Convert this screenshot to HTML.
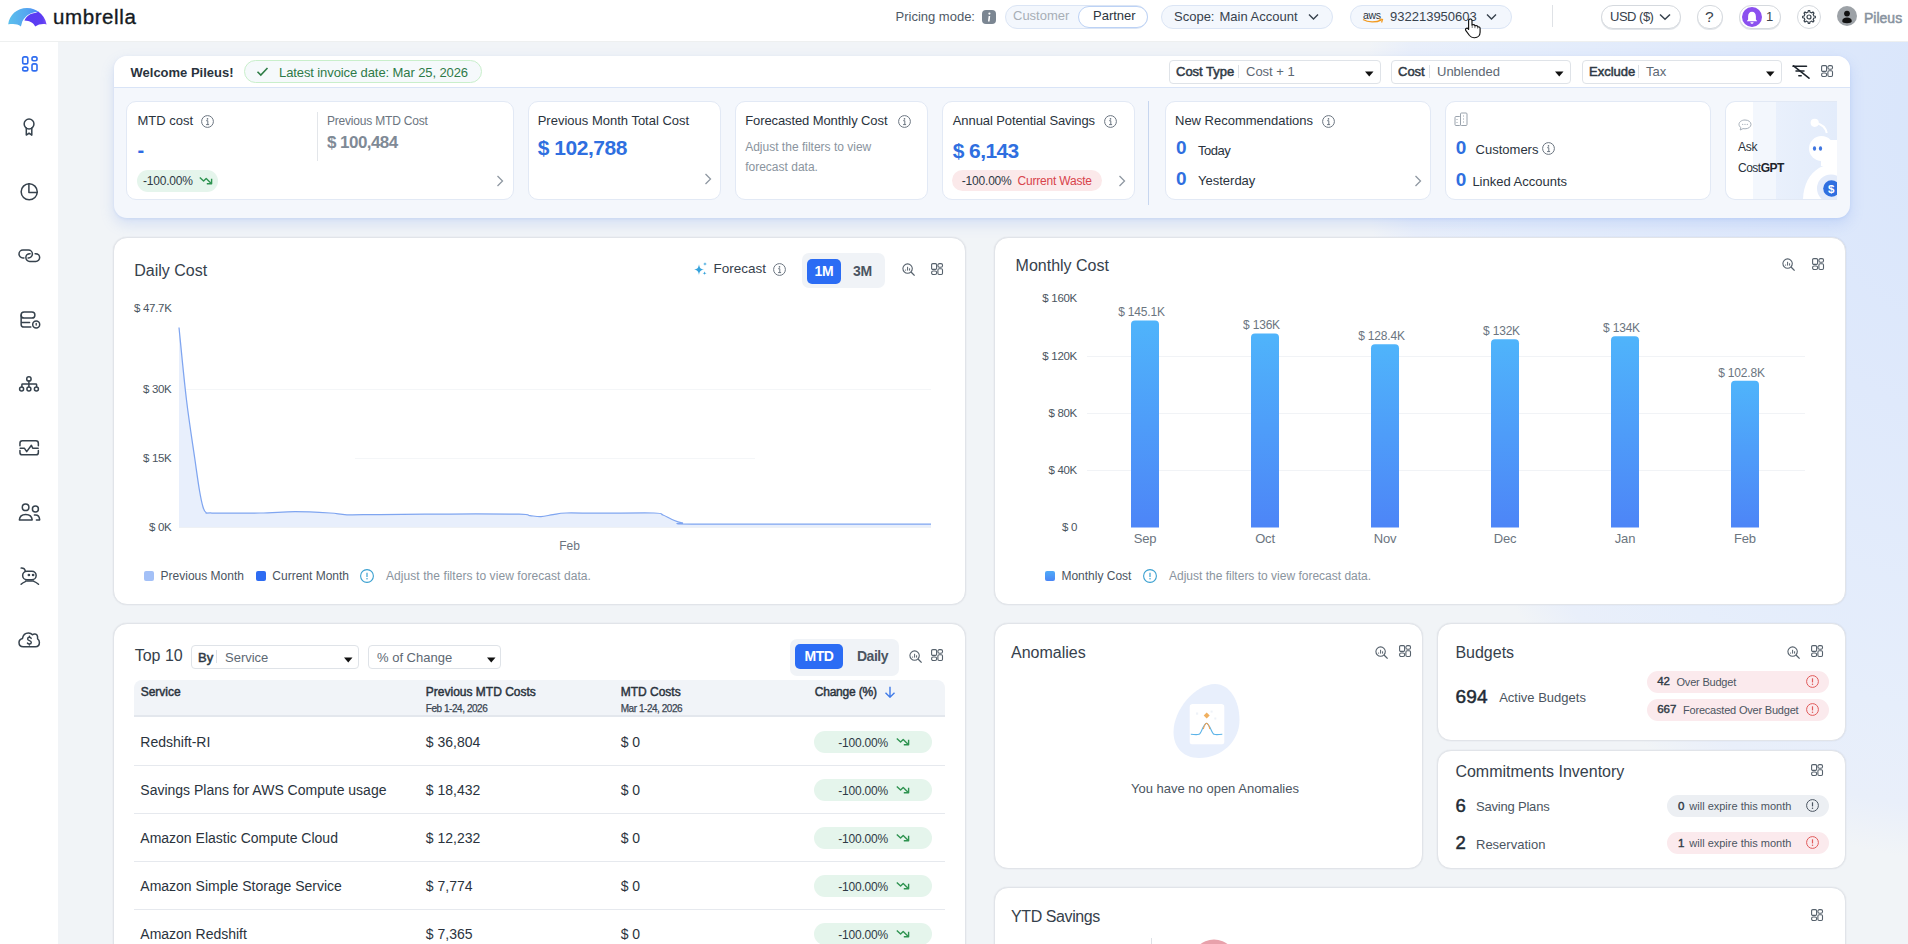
<!DOCTYPE html><html><head><meta charset="utf-8"><title>Umbrella</title><style>
*{box-sizing:border-box;margin:0;padding:0}
html,body{width:1908px;height:944px;overflow:hidden}
body{position:relative;font-family:"Liberation Sans",sans-serif;background:#f1f4f7;color:#2b3440;-webkit-font-smoothing:antialiased}
.t{position:absolute;white-space:nowrap;line-height:1}
.b{position:absolute;display:block}
.card{position:absolute;background:#fff;border:1px solid #e1e4e9;border-radius:14px;box-shadow:0 0 1.5px rgba(30,40,60,.10)}
.kpi{position:absolute;background:#fff;border:1px solid #e2e9f5;border-radius:10px}
.pill{position:absolute;border-radius:12px}
.sel{position:absolute;background:#fff;border:1px solid #dfe3e8;border-radius:4px}
</style></head><body>
<div class="b" style="left:0;top:0;width:1908px;height:944px;background:radial-gradient(ellipse 600px 740px at 1965px 120px, #d8e5fb 0%, #dfe9fb 40%, #e6eefb 80%, #e9effa 93%, rgba(241,244,247,0) 100%)"></div>
<div class="b" style="left:0px;top:0px;width:1908px;height:42px;background:#fff;border-bottom:1px solid #eef0f0"></div>
<svg class="b" style="left:0px;top:0px;" width="50" height="30" viewBox="0 0 50 30"><defs><linearGradient id="lg1" x1="0" x2="1" y1="0" y2="0"><stop offset="0" stop-color="#5cc0ec"/><stop offset="0.6" stop-color="#55a6f0"/><stop offset="1" stop-color="#4a86f6"/></linearGradient><linearGradient id="lg2" x1="0" x2="1"><stop offset="0" stop-color="#5a3cf3"/><stop offset="0.8" stop-color="#5c3df2"/><stop offset="1" stop-color="#7d4ff6"/></linearGradient></defs><path d="M8.2 24.2 C9.5 14.5 17 8 27 7.9 C32 7.9 36 9.5 39 12.2 C32 11.5 26 15 22.3 21.5 L20.9 26.4 C18.5 24.6 15.5 23.9 12.5 24 C10.8 24 9.3 24.3 8.2 24.2 Z" fill="url(#lg1)"/><path d="M24.4 20.6 C26.5 16 30.5 13.2 35 12.9 C36.5 12.8 37.5 12.3 38.2 11.6 C42.5 14.5 45.6 19 46.6 24.4 C43 23.6 38.5 24 35.2 26.6 C33.5 23.1 29.8 20.8 24.4 20.6 Z" fill="url(#lg2)"/></svg>
<div class="t " style="left:53.0px;top:6.65px;font-size:20.5px;color:#151a22;letter-spacing:0.6px;-webkit-text-stroke:0.35px #151a22;">umbrella</div>
<div class="t " style="left:895.5px;top:9.80px;font-size:13px;color:#4f5a66;">Pricing mode:</div>
<svg class="b" style="left:982px;top:10px;" width="14" height="14" viewBox="0 0 14 14"><rect x="0" y="0" width="14" height="14" rx="4" fill="#7b8692"/><circle cx="7.4" cy="3.6" r="1.1" fill="#fff"/><path d="M6.6 6 L8.2 6 L7.6 11.5 L6 11.5 Z" fill="#fff"/></svg>
<div class="b" style="left:1005px;top:5px;width:143px;height:24px;background:#f3f7fd;border:1px solid #dbe5f5;border-radius:12px"></div>
<div class="b" style="left:1078px;top:6px;width:70px;height:22px;background:#fff;border:1px solid #bcd2f5;border-radius:11px"></div>
<div class="t " style="left:1013.0px;top:9.00px;font-size:13px;color:#a7aeb6;">Customer</div>
<div class="t " style="left:1093.0px;top:9.00px;font-size:13px;color:#2d3640;">Partner</div>
<div class="b" style="left:1161px;top:5px;width:172px;height:24px;background:#f3f7fd;border:1px solid #dbe5f5;border-radius:12px"></div>
<div class="t " style="left:1174.0px;top:9.50px;font-size:13px;color:#37424d;">Scope:</div>
<div class="t " style="left:1219.5px;top:9.50px;font-size:13px;color:#37424d;">Main Account</div>
<svg class="b" style="left:1308px;top:13px;" width="11" height="8" viewBox="0 0 11 8"><path d="M1 1.5 L5.5 6 L10 1.5" fill="none" stroke="#37424d" stroke-width="1.4"/></svg>
<div class="b" style="left:1350px;top:5px;width:162px;height:24px;background:#f3f7fd;border:1px solid #dbe5f5;border-radius:12px"></div>
<div class="t" style="left:1363px;top:9.5px;font-size:10.5px;color:#2b3440;letter-spacing:-0.3px;">aws</div>
<svg class="b" style="left:1362px;top:18px;" width="22" height="6" viewBox="0 0 22 6"><path d="M1 1.5 C6 4.5 14 4.8 19.5 1.8" fill="none" stroke="#f29a1f" stroke-width="1.4"/><path d="M17 0.8 L20.5 1.5 L19.6 4.5" fill="none" stroke="#f29a1f" stroke-width="1.2"/></svg>
<div class="t " style="left:1390.0px;top:9.60px;font-size:13px;color:#37424d;">932213950603</div>
<svg class="b" style="left:1486px;top:13px;" width="11" height="8" viewBox="0 0 11 8"><path d="M1 1.5 L5.5 6 L10 1.5" fill="none" stroke="#37424d" stroke-width="1.4"/></svg>
<div class="b" style="left:1552px;top:5px;width:1px;height:22px;background:#dfe2e6"></div>
<div class="b" style="left:1601px;top:5px;width:80px;height:24px;background:#fff;border:1px solid #d5d9de;border-radius:12px;box-shadow:0 1px 0 #e2e5e9"></div>
<div class="t " style="left:1610.0px;top:9.60px;font-size:13px;color:#37424d;letter-spacing:-0.5px;">USD ($)</div>
<svg class="b" style="left:1659px;top:13px;" width="12" height="8" viewBox="0 0 12 8"><path d="M1 1.5 L6 6.3 L11 1.5" fill="none" stroke="#37424d" stroke-width="1.5"/></svg>
<div class="b" style="left:1697px;top:5px;width:26px;height:24px;background:#fff;border:1px solid #d5d9de;border-radius:12px;box-shadow:0 1px 0 #e2e5e9"></div>
<div class="t " style="left:1705.0px;top:8.88px;font-size:15.5px;color:#37424d;">?</div>
<div class="b" style="left:1739px;top:5px;width:42px;height:24px;background:#fff;border:1px solid #d5d9de;border-radius:12px;box-shadow:0 1px 0 #e2e5e9"></div>
<svg class="b" style="left:1742px;top:7px;" width="20" height="20" viewBox="0 0 20 20"><circle cx="10" cy="10" r="10" fill="#8b50ef"/><path d="M4.8 14.2 H15.2 L13.9 12.4 V9.4 C13.9 6.6 12.3 4.8 10 4.8 C7.7 4.8 6.1 6.6 6.1 9.4 V12.4 Z" fill="#fff"/><path d="M8.4 15.2 H11.6 C11.4 16.2 10.8 16.7 10 16.7 C9.2 16.7 8.6 16.2 8.4 15.2 Z" fill="#fff"/></svg>
<div class="t " style="left:1766.0px;top:10.00px;font-size:13px;color:#3a434d;">1</div>
<div class="b" style="left:1797px;top:5px;width:24px;height:24px;background:#fff;border:1px solid #d5d9de;border-radius:12px"></div>
<svg class="b" style="left:1802px;top:10px;" width="14" height="14" viewBox="0 0 14 14"><path d="M11.53 5.12 L11.80 6.01 L13.36 6.25 L13.36 7.75 L11.80 7.99 L11.53 8.88 L11.10 9.69 L12.03 10.96 L10.96 12.03 L9.69 11.10 L8.88 11.53 L7.99 11.80 L7.75 13.36 L6.25 13.36 L6.01 11.80 L5.12 11.53 L4.31 11.10 L3.04 12.03 L1.97 10.96 L2.90 9.69 L2.47 8.88 L2.20 7.99 L0.64 7.75 L0.64 6.25 L2.20 6.01 L2.47 5.12 L2.90 4.31 L1.97 3.04 L3.04 1.97 L4.31 2.90 L5.12 2.47 L6.01 2.20 L6.25 0.64 L7.75 0.64 L7.99 2.20 L8.88 2.47 L9.69 2.90 L10.96 1.97 L12.03 3.04 L11.10 4.31 Z" fill="none" stroke="#37424d" stroke-width="1.15" stroke-linejoin="round"/><circle cx="7" cy="7" r="2" fill="none" stroke="#37424d" stroke-width="1.2"/></svg>
<svg class="b" style="left:1837px;top:6px;" width="20" height="20" viewBox="0 0 20 20"><circle cx="10" cy="10" r="10" fill="#9da2a7"/><circle cx="10" cy="7.6" r="2.9" fill="#111"/><path d="M5.2 15.2 C5.2 12.8 7.2 11.6 10 11.6 C12.8 11.6 14.8 12.8 14.8 15.2 C14.8 16.4 12.8 17.2 10 17.2 C7.2 17.2 5.2 16.4 5.2 15.2 Z" fill="#111"/></svg>
<div class="t " style="left:1864.0px;top:10.95px;font-size:14px;color:#8893a0;-webkit-text-stroke:0.5px #8893a0;">Pileus</div>
<div class="b" style="left:0px;top:42px;width:58px;height:902px;background:#fff"></div>
<svg class="b" style="left:0;top:0" width="58" height="660" viewBox="0 0 58 660"><g fill="none" stroke="#36424d" stroke-width="1.5" stroke-linecap="round" stroke-linejoin="round"><g stroke="#2f6df0" stroke-width="1.6"><rect x="22.7" y="56.9" width="5.1" height="7" rx="1.7"/><rect x="32" y="56.9" width="5" height="3.9" rx="1.7"/><rect x="22.7" y="67.1" width="5.1" height="3.8" rx="1.7"/><rect x="32" y="63.9" width="5" height="7" rx="1.7"/></g><circle cx="29.05" cy="124" r="4.9"/><path d="M26.3 128 V135.1 L29.05 133.2 L31.8 135.1 V128"/><circle cx="29.2" cy="191.8" r="8.05"/><path d="M28.9 183.8 V192.4 H37.2"/><path d="M23.9 258 H22.95 A3.95 3.95 0 0 1 22.95 250.1 H28.45 A3.95 3.95 0 0 1 28.45 258 H28.1"/><path d="M30.1 253.75 H29.7 A3.85 3.85 0 0 0 29.7 261.45 H35.8 A3.85 3.85 0 0 0 35.8 253.75 H35.1"/><rect x="21.15" y="311.95" width="13.7" height="6.1" rx="2.9"/><path d="M21.15 315 V324.5 C21.15 326.3 22.2 327.1 24 327.1 H30.8 M21.3 322.6 H29.6"/><circle cx="36.2" cy="324.4" r="3.5"/><path d="M36.2 323.4 V325" stroke-width="1.3"/><circle cx="28.9" cy="378.9" r="2.2"/><path d="M28.9 381.1 V386.7 M21.9 386.8 V384.6 C21.9 384.1 22.2 383.9 22.7 383.9 H35.8 C36.3 383.9 36.6 384.1 36.6 384.6 V386.8"/><circle cx="21.6" cy="388.9" r="2"/><circle cx="28.9" cy="388.9" r="2"/><circle cx="36.4" cy="388.9" r="2"/><path d="M19.95 445.8 V443.3 C19.95 441.9 20.9 440.75 22.4 440.75 H35.9 C37.4 440.75 38.35 441.9 38.35 443.3 V445.8"/><path d="M19.95 450.6 V452.4 C19.95 453.9 20.9 454.85 22.4 454.85 H35.9 C37.4 454.85 38.35 453.9 38.35 452.4 V450.6"/><path d="M20.2 448.3 H24.5 L26.7 451.6 L31.4 445.3 L32.7 448.3 H38.2"/><circle cx="25.6" cy="507.3" r="3.3"/><circle cx="35.4" cy="508.9" r="3"/><path d="M19.4 519.9 C19.6 516.5 21.7 514.5 25.7 514.5 C29.7 514.5 31.9 516.5 32.2 519.9 Z"/><path d="M34.4 515.1 H35.6 C37.7 515.1 39.4 516.6 39.7 519.9 H36.4"/><rect x="22.65" y="571.25" width="13.5" height="8.5" rx="4.25"/><path d="M21.2 568.1 C23.2 568 24.8 569 25.3 570.9"/><path d="M25.6 580.9 H33.6 M25.4 581.6 C23.6 582.2 22.2 583.2 21.1 584.3 M33.8 581.4 C35.6 582 37 583 38.5 584.3"/><circle cx="28.9" cy="575" r="0.6" fill="#36424d"/><circle cx="33.1" cy="575" r="0.6" fill="#36424d"/><path d="M23.3 646.8 C20.6 646.8 19 644.9 19 642.6 C19 640.4 20.6 638.8 22.5 638.4 C23 635 25.5 632.9 28.5 632.9 C30.3 632.9 31.6 633.7 32.5 634.8 C33.2 634.2 34.2 633.9 35 634 C36.8 634.2 37.8 636 37.6 638.8 C39 639.5 39.4 641 39.4 642.6 C39.4 645 37.8 646.8 35.4 646.8 Z"/><path d="M31.2 638.4 C30.8 637.7 30.1 637.3 29.4 637.3 C28.3 637.3 27.6 638 27.6 638.9 C27.6 641 31.3 640.3 31.3 642.5 C31.3 643.4 30.5 644 29.4 644 C28.6 644 27.8 643.6 27.4 643 M29.4 636.2 V637.3 M29.4 644 V645.1" stroke-width="1.4"/></g></svg>
<div class="b" style="left:114px;top:56px;width:1736px;height:162px;border-radius:13px;background:#f4f7fc;box-shadow:0 6px 14px rgba(110,150,235,0.22), 0 1px 3px rgba(110,150,235,0.15);overflow:hidden"><div style="position:absolute;left:0;top:0;width:1736px;height:32px;background:#fff;border-bottom:1px solid #d9e4f7"></div></div>
<div class="t " style="left:130.5px;top:65.70px;font-size:13px;color:#2a333d;font-weight:700;letter-spacing:0px;">Welcome Pileus!</div>
<div class="b" style="left:244px;top:60px;width:238px;height:23px;background:#f5f9fb;border:1px solid #c9efcb;border-radius:12px"></div>
<svg class="b" style="left:256px;top:66px;" width="13" height="11" viewBox="0 0 13 11"><path d="M1.5 5.8 L4.8 9 L11.5 2" fill="none" stroke="#2e7d46" stroke-width="1.6"/></svg>
<div class="t " style="left:279.0px;top:65.50px;font-size:13px;color:#2e7a48;letter-spacing:-0.1px;">Latest invoice date: Mar 25, 2026</div>
<div class="b" style="left:1169px;top:60px;width:212px;height:24px;background:#fff;border:1px solid #dfe3e8;border-radius:4px"></div>
<div class="t " style="left:1176.0px;top:64.80px;font-size:13px;color:#2f3a45;-webkit-text-stroke:0.5px #2f3a45;">Cost Type</div>
<div class="b" style="left:1238px;top:65px;width:1px;height:13px;background:#dde1e6"></div>
<div class="t " style="left:1246.0px;top:64.80px;font-size:13px;color:#5d6873;">Cost + 1</div>
<svg class="b" style="left:1365px;top:70.5px;" width="9" height="6" viewBox="0 0 9 6"><path d="M0 0.5 H8.5 L4.25 5.5 Z" fill="#111"/></svg>
<div class="b" style="left:1391px;top:60px;width:180px;height:24px;background:#fff;border:1px solid #dfe3e8;border-radius:4px"></div>
<div class="t " style="left:1398.0px;top:64.80px;font-size:13px;color:#2f3a45;-webkit-text-stroke:0.5px #2f3a45;">Cost</div>
<div class="b" style="left:1429px;top:65px;width:1px;height:13px;background:#dde1e6"></div>
<div class="t " style="left:1437.0px;top:64.80px;font-size:13px;color:#5d6873;">Unblended</div>
<svg class="b" style="left:1555px;top:70.5px;" width="9" height="6" viewBox="0 0 9 6"><path d="M0 0.5 H8.5 L4.25 5.5 Z" fill="#111"/></svg>
<div class="b" style="left:1582px;top:60px;width:200px;height:24px;background:#fff;border:1px solid #dfe3e8;border-radius:4px"></div>
<div class="t " style="left:1589.0px;top:64.80px;font-size:13px;color:#2f3a45;-webkit-text-stroke:0.5px #2f3a45;">Exclude</div>
<div class="b" style="left:1638px;top:65px;width:1px;height:13px;background:#dde1e6"></div>
<div class="t " style="left:1646.0px;top:64.80px;font-size:13px;color:#5d6873;">Tax</div>
<svg class="b" style="left:1766px;top:70.5px;" width="9" height="6" viewBox="0 0 9 6"><path d="M0 0.5 H8.5 L4.25 5.5 Z" fill="#111"/></svg>
<svg class="b" style="left:1792px;top:65px;" width="19" height="14" viewBox="0 0 19 14"><g fill="none" stroke="#1d242c" stroke-width="1.5" stroke-linecap="round"><path d="M1 1.3 H14.5"/><path d="M4 6 H12"/><path d="M6.8 10.8 H9.2"/><path d="M1.5 0.8 L17 13.2"/></g></svg>
<svg class="b" style="left:1821.2px;top:65.4px;" width="13" height="13" viewBox="0 0 13 13"><g fill="none" stroke="#56616c" stroke-width="1.1"><rect x="0.6" y="0.6" width="5" height="5.8" rx="1.2"/><rect x="6.9" y="0.6" width="4.6" height="3.6" rx="1.5"/><rect x="0.6" y="8" width="5" height="3.5" rx="1.5"/><rect x="6.9" y="5.8" width="4.6" height="5.7" rx="1.2"/></g></svg>
<div class="kpi" style="left:126px;top:101px;width:388px;height:99px"></div>
<div class="kpi" style="left:528px;top:101px;width:193px;height:99px"></div>
<div class="kpi" style="left:735px;top:101px;width:193px;height:99px"></div>
<div class="kpi" style="left:942px;top:101px;width:193px;height:99px"></div>
<div class="b" style="left:1148px;top:101px;width:1px;height:104px;background:#c7d6ef"></div>
<div class="kpi" style="left:1165px;top:101px;width:266px;height:99px"></div>
<div class="kpi" style="left:1445px;top:101px;width:266px;height:99px"></div>
<div class="b" style="left:1725px;top:101px;width:112px;height:99px;border-radius:10px 0 0 10px;overflow:hidden;border:1px solid #e2e9f5;border-right:none;background:linear-gradient(90deg,#fff 0,#fff 27px,#f3f7fd 27px,#f3f7fd 50px,#e9f0fc 50px,#e6eefb 75px,#e3ecfb 100%)"><svg style="position:absolute;left:0;top:0" width="112" height="99" viewBox="0 0 112 99"><path d="M77 99 C77 84 83 72 93 66 C97 63.5 103 62.5 112 62.5 V99 Z" fill="#fff"/><circle cx="95.5" cy="46.5" r="12.5" fill="#fff"/><rect x="95" y="38" width="17" height="26" fill="#fff"/><path d="M90 21 C95 22 99.5 25 100.8 31" fill="none" stroke="#fff" stroke-width="2"/><circle cx="88.7" cy="20.8" r="4.1" fill="#fff"/><ellipse cx="88.5" cy="46.5" rx="1.6" ry="2.3" fill="#3f76e0"/><ellipse cx="94.5" cy="46.5" rx="1.6" ry="2.3" fill="#3f76e0"/><circle cx="105" cy="86.5" r="14" fill="#e3ebfa"/><circle cx="105.5" cy="86.5" r="8.3" fill="#2f6fe0"/><text x="102" y="91" font-family="Liberation Sans" font-weight="700" font-size="11.5" fill="#fff">$</text></svg></div>
<div class="t " style="left:137.5px;top:114.00px;font-size:13px;color:#2a333d;">MTD cost</div>
<svg class="b" style="left:201px;top:115px;" width="13" height="13" viewBox="0 0 13 13"><circle cx="6.5" cy="6.5" r="5.9" fill="none" stroke="#6b7580" stroke-width="1"/><circle cx="6.5" cy="3.9" r="0.8" fill="#6b7580"/><path d="M5.2 5.7 H6.8 V9.5 M5.1 9.6 H8.1" stroke="#6b7580" stroke-width="1" fill="none"/></svg>
<div class="t " style="left:137.5px;top:140.07px;font-size:20px;color:#2d6be4;font-weight:700;">-</div>
<div class="b" style="left:137px;top:170px;width:81px;height:22px;background:#e5f5ec;border-radius:11px"></div>
<div class="t " style="left:143.0px;top:174.54px;font-size:12px;color:#2f3a45;letter-spacing:-0.2px;">-100.00%</div>
<svg class="b" style="left:199px;top:176px;" width="14" height="9" viewBox="0 0 14 9"><path d="M0.8 1.5 L4.6 5 L7.2 2.6 L12 7.2 M12.6 2.8 V7.8 H7.8" fill="none" stroke="#2e9350" stroke-width="1.4" stroke-linejoin="round"/></svg>
<div class="b" style="left:317px;top:112px;width:1px;height:49px;background:#e3e6ea"></div>
<div class="t " style="left:327.0px;top:114.84px;font-size:12px;color:#6b7580;letter-spacing:-0.2px;">Previous MTD Cost</div>
<div class="t " style="left:327.0px;top:133.61px;font-size:17px;color:#7f8a96;font-weight:700;letter-spacing:-0.55px;">$ 100,484</div>
<svg class="b" style="left:496px;top:175px;" width="8" height="12" viewBox="0 0 8 12"><path d="M1.5 1 L6.5 6 L1.5 11" fill="none" stroke="#8f98a2" stroke-width="1.3"/></svg>
<div class="t " style="left:537.7px;top:114.00px;font-size:13px;color:#2a333d;">Previous Month Total Cost</div>
<div class="t " style="left:537.7px;top:137.22px;font-size:21px;color:#2f6fe0;font-weight:700;letter-spacing:-0.45px;">$ 102,788</div>
<svg class="b" style="left:704px;top:173px;" width="8" height="12" viewBox="0 0 8 12"><path d="M1.5 1 L6.5 6 L1.5 11" fill="none" stroke="#8f98a2" stroke-width="1.3"/></svg>
<div class="t " style="left:745.2px;top:114.00px;font-size:13px;color:#2a333d;letter-spacing:-0.1px;">Forecasted Monthly Cost</div>
<svg class="b" style="left:898px;top:115px;" width="13" height="13" viewBox="0 0 13 13"><circle cx="6.5" cy="6.5" r="5.9" fill="none" stroke="#6b7580" stroke-width="1"/><circle cx="6.5" cy="3.9" r="0.8" fill="#6b7580"/><path d="M5.2 5.7 H6.8 V9.5 M5.1 9.6 H8.1" stroke="#6b7580" stroke-width="1" fill="none"/></svg>
<div class="t " style="left:745.2px;top:140.84px;font-size:12px;color:#8a949e;">Adjust the filters to view</div>
<div class="t " style="left:745.2px;top:160.64px;font-size:12px;color:#8a949e;">forecast data.</div>
<div class="t " style="left:952.8px;top:114.00px;font-size:13px;color:#2a333d;letter-spacing:-0.1px;">Annual Potential Savings</div>
<svg class="b" style="left:1104px;top:115px;" width="13" height="13" viewBox="0 0 13 13"><circle cx="6.5" cy="6.5" r="5.9" fill="none" stroke="#6b7580" stroke-width="1"/><circle cx="6.5" cy="3.9" r="0.8" fill="#6b7580"/><path d="M5.2 5.7 H6.8 V9.5 M5.1 9.6 H8.1" stroke="#6b7580" stroke-width="1" fill="none"/></svg>
<div class="t " style="left:952.8px;top:139.92px;font-size:21px;color:#2f6fe0;font-weight:700;letter-spacing:-0.6px;">$ 6,143</div>
<div class="b" style="left:952px;top:170px;width:150px;height:21px;background:#fbe9ea;border-radius:11px"></div>
<div class="t " style="left:961.8px;top:174.54px;font-size:12px;color:#2f3a45;letter-spacing:-0.2px;">-100.00%</div>
<div class="t " style="left:1017.5px;top:174.54px;font-size:12px;color:#d8434b;letter-spacing:-0.2px;">Current Waste</div>
<svg class="b" style="left:1118px;top:175px;" width="8" height="12" viewBox="0 0 8 12"><path d="M1.5 1 L6.5 6 L1.5 11" fill="none" stroke="#8f98a2" stroke-width="1.3"/></svg>
<div class="t " style="left:1175.0px;top:113.90px;font-size:13px;color:#2a333d;">New Recommendations</div>
<svg class="b" style="left:1322px;top:115px;" width="13" height="13" viewBox="0 0 13 13"><circle cx="6.5" cy="6.5" r="5.9" fill="none" stroke="#6b7580" stroke-width="1"/><circle cx="6.5" cy="3.9" r="0.8" fill="#6b7580"/><path d="M5.2 5.7 H6.8 V9.5 M5.1 9.6 H8.1" stroke="#6b7580" stroke-width="1" fill="none"/></svg>
<div class="t " style="left:1176.0px;top:138.32px;font-size:19px;color:#2f6fe0;font-weight:700;">0</div>
<div class="t " style="left:1198.0px;top:143.70px;font-size:13px;color:#2a333d;letter-spacing:-0.5px;">Today</div>
<div class="t " style="left:1176.0px;top:168.52px;font-size:19px;color:#2f6fe0;font-weight:700;">0</div>
<div class="t " style="left:1198.0px;top:173.60px;font-size:13px;color:#2a333d;">Yesterday</div>
<svg class="b" style="left:1414px;top:175px;" width="8" height="12" viewBox="0 0 8 12"><path d="M1.5 1 L6.5 6 L1.5 11" fill="none" stroke="#8f98a2" stroke-width="1.3"/></svg>
<svg class="b" style="left:1454px;top:112px;" width="15" height="15" viewBox="0 0 15 15"><g fill="none" stroke="#9aa3ad" stroke-width="1"><rect x="1" y="4.5" width="5.5" height="9" rx="1"/><rect x="6.5" y="1" width="6.5" height="12.5" rx="1"/></g><path d="M3 7 V8 M3 10 V11 M9.5 3.5 V4.5 M9.5 6.5 V7.5 M9.5 9.5 V10.5" stroke="#9aa3ad" stroke-width="1"/></svg>
<div class="t " style="left:1455.8px;top:137.92px;font-size:19px;color:#2f6fe0;font-weight:700;">0</div>
<div class="t " style="left:1475.6px;top:143.00px;font-size:13px;color:#2a333d;">Customers</div>
<svg class="b" style="left:1542px;top:142px;" width="13" height="13" viewBox="0 0 13 13"><circle cx="6.5" cy="6.5" r="5.9" fill="none" stroke="#6b7580" stroke-width="1"/><circle cx="6.5" cy="3.9" r="0.8" fill="#6b7580"/><path d="M5.2 5.7 H6.8 V9.5 M5.1 9.6 H8.1" stroke="#6b7580" stroke-width="1" fill="none"/></svg>
<div class="t " style="left:1455.8px;top:169.82px;font-size:19px;color:#2f6fe0;font-weight:700;">0</div>
<div class="t " style="left:1472.4px;top:174.90px;font-size:13px;color:#2a333d;">Linked Accounts</div>
<svg class="b" style="left:1738px;top:119px;" width="14" height="12" viewBox="0 0 14 12"><path d="M7 1 C3.5 1 1 3 1 5.4 C1 6.7 1.7 7.8 2.9 8.6 L2.2 11 L5 9.6 C5.6 9.7 6.3 9.8 7 9.8 C10.5 9.8 13 7.8 13 5.4 C13 3 10.5 1 7 1 Z" fill="none" stroke="#a7b0ba" stroke-width="1"/><circle cx="4.7" cy="5.4" r="0.6" fill="#a7b0ba"/><circle cx="7" cy="5.4" r="0.6" fill="#a7b0ba"/><circle cx="9.3" cy="5.4" r="0.6" fill="#a7b0ba"/></svg>
<div class="t " style="left:1738.0px;top:141.44px;font-size:12px;color:#2a333d;letter-spacing:-0.3px;">Ask</div>
<div class="t " style="left:1738.0px;top:162.44px;font-size:12px;color:#2a333d;letter-spacing:-0.5px;">Cost<b style="color:#1e252d">GPT</b></div>
<div class="card" style="left:113px;top:237px;width:853px;height:368px"></div>
<div class="card" style="left:994px;top:237px;width:852px;height:368px"></div>
<div class="card" style="left:113px;top:623px;width:853px;height:340px"></div>
<div class="card" style="left:994px;top:623px;width:429px;height:246px"></div>
<div class="card" style="left:1437px;top:623px;width:409px;height:118px"></div>
<div class="card" style="left:1437px;top:750px;width:409px;height:119px"></div>
<div class="card" style="left:994px;top:887px;width:852px;height:80px"></div>
<div class="t " style="left:134.3px;top:262.56px;font-size:16px;color:#36414c;">Daily Cost</div>
<svg class="b" style="left:693px;top:261px;" width="16" height="16" viewBox="0 0 16 16"><path d="M6 3.2 C6.6 7 7.6 8 11.3 8.6 C7.6 9.2 6.6 10.2 6 14 C5.4 10.2 4.4 9.2 0.7 8.6 C4.4 8 5.4 7 6 3.2 Z" fill="#36a3dc"/><path d="M12 1 C12.2 2.4 12.6 2.8 14 3 C12.6 3.2 12.2 3.6 12 5 C11.8 3.6 11.4 3.2 10 3 C11.4 2.8 11.8 2.4 12 1 Z" fill="#36a3dc"/><path d="M11.6 10.2 C11.8 11.6 12.2 12 13.6 12.2 C12.2 12.4 11.8 12.8 11.6 14.2 C11.4 12.8 11 12.4 9.6 12.2 C11 12 11.4 11.6 11.6 10.2 Z" fill="#36a3dc"/></svg>
<div class="t " style="left:713.5px;top:262.37px;font-size:13.5px;color:#36414c;letter-spacing:0px;">Forecast</div>
<svg class="b" style="left:773px;top:263px;" width="13" height="13" viewBox="0 0 13 13"><circle cx="6.5" cy="6.5" r="5.9" fill="none" stroke="#6b7580" stroke-width="1"/><circle cx="6.5" cy="3.9" r="0.8" fill="#6b7580"/><path d="M5.2 5.7 H6.8 V9.5 M5.1 9.6 H8.1" stroke="#6b7580" stroke-width="1" fill="none"/></svg>
<div class="b" style="left:802px;top:253px;width:83px;height:35px;background:#f0f3f7;border-radius:7px"></div>
<div class="b" style="left:807px;top:259px;width:34px;height:25px;background:#2b6cf4;border-radius:5px"></div>
<div class="t " style="left:814.5px;top:264.25px;font-size:14px;color:#fff;font-weight:700;letter-spacing:-0.3px;">1M</div>
<div class="t " style="left:853.0px;top:264.25px;font-size:14px;color:#4b5561;font-weight:700;letter-spacing:-0.3px;">3M</div>
<svg class="b" style="left:901.6px;top:262.7px;" width="14" height="14" viewBox="0 0 14 14"><g fill="none" stroke="#56616c" stroke-width="1.1"><circle cx="5.6" cy="5.6" r="4.7"/><path d="M9 9 L12.6 12.6" stroke-width="1.3"/></g><path d="M3.6 7.6 V6.6 M5.6 7.6 V3.8 M7.6 7.6 V5.3" stroke="#56616c" stroke-width="1"/></svg>
<svg class="b" style="left:931.2px;top:263.4px;" width="13" height="13" viewBox="0 0 13 13"><g fill="none" stroke="#56616c" stroke-width="1.1"><rect x="0.6" y="0.6" width="5" height="5.8" rx="1.2"/><rect x="6.9" y="0.6" width="4.6" height="3.6" rx="1.5"/><rect x="0.6" y="8" width="5" height="3.5" rx="1.5"/><rect x="6.9" y="5.8" width="4.6" height="5.7" rx="1.2"/></g></svg>
<div class="t" style="left:100.5px;width:71px;text-align:right;top:303.27px;font-size:11.5px;color:#4a5560;letter-spacing:-0.3px">$ 47.7K</div>
<div class="t" style="left:100.5px;width:71px;text-align:right;top:383.77px;font-size:11.5px;color:#4a5560;letter-spacing:-0.3px">$ 30K</div>
<div class="t" style="left:100.5px;width:71px;text-align:right;top:452.67px;font-size:11.5px;color:#4a5560;letter-spacing:-0.3px">$ 15K</div>
<div class="t" style="left:100.5px;width:71px;text-align:right;top:521.57px;font-size:11.5px;color:#4a5560;letter-spacing:-0.3px">$ 0K</div>
<div class="b" style="left:179px;top:389px;width:752px;height:1px;background:#f4f6f8"></div>
<div class="b" style="left:355px;top:458px;width:400px;height:1px;background:#f4f6f8"></div>
<svg class="b" style="left:0px;top:0px;pointer-events:none" width="960" height="560" viewBox="0 0 960 560"><path d="M179 327.5 C180.25 339.58 183.88 378.25 186.5 400 C189.12 421.75 192.55 443.00 194.7 458 C196.85 473.00 198.02 481.83 199.4 490 C200.78 498.17 201.90 503.23 203 507 C204.10 510.77 204.50 511.60 206 512.6 C207.50 513.60 203.00 512.93 212 513 C221.00 513.07 246.17 513.23 260 513 C273.83 512.77 283.33 511.60 295 511.6 C306.67 511.60 321.33 512.47 330 513 C338.67 513.53 338.67 514.55 347 514.8 C355.33 515.05 362.83 514.63 380 514.5 C397.17 514.37 426.83 514.05 450 514 C473.17 513.95 505.67 513.93 519 514.2 C532.33 514.47 526.33 515.20 530 515.6 C533.67 516.00 537.17 516.77 541 516.6 C544.83 516.43 548.83 515.20 553 514.6 C557.17 514.00 558.17 513.23 566 513 C573.83 512.77 585.33 513.20 600 513.2 C614.67 513.20 643.50 512.70 654 513 C664.50 513.30 660.00 513.92 663 515 C666.00 516.08 668.83 518.20 672 519.5 C675.17 520.80 677.33 522.05 682 522.8 C686.67 523.55 658.50 523.80 700 524 C741.50 524.20 892.50 524.00 931 524 L931 527.3 L179 527.3 Z" fill="#e8effc"/><path d="M179 327.5 C180.25 339.58 183.88 378.25 186.5 400 C189.12 421.75 192.55 443.00 194.7 458 C196.85 473.00 198.02 481.83 199.4 490 C200.78 498.17 201.90 503.23 203 507 C204.10 510.77 204.50 511.60 206 512.6 C207.50 513.60 203.00 512.93 212 513 C221.00 513.07 246.17 513.23 260 513 C273.83 512.77 283.33 511.60 295 511.6 C306.67 511.60 321.33 512.47 330 513 C338.67 513.53 338.67 514.55 347 514.8 C355.33 515.05 362.83 514.63 380 514.5 C397.17 514.37 426.83 514.05 450 514 C473.17 513.95 505.67 513.93 519 514.2 C532.33 514.47 526.33 515.20 530 515.6 C533.67 516.00 537.17 516.77 541 516.6 C544.83 516.43 548.83 515.20 553 514.6 C557.17 514.00 558.17 513.23 566 513 C573.83 512.77 585.33 513.20 600 513.2 C614.67 513.20 643.50 512.70 654 513 C664.50 513.30 660.00 513.92 663 515 C666.00 516.08 668.83 518.20 672 519.5 C675.17 520.80 677.33 522.05 682 522.8 C686.67 523.55 658.50 523.80 700 524 C741.50 524.20 892.50 524.00 931 524" fill="none" stroke="#7fa5f0" stroke-width="1.25" stroke-linejoin="round"/></svg>
<div class="b" style="left:179px;top:527px;width:752px;height:1px;background:#eef1f5"></div>
<div class="t " style="left:559.2px;top:539.84px;font-size:12px;color:#6b7580;">Feb</div>
<div class="b" style="left:144px;top:571px;width:10px;height:10px;background:#a3c0f7;border-radius:2px"></div>
<div class="t " style="left:160.6px;top:570.34px;font-size:12px;color:#4b5561;">Previous Month</div>
<div class="b" style="left:256px;top:571px;width:10px;height:10px;background:#2e6cf2;border-radius:2px"></div>
<div class="t " style="left:272.3px;top:570.34px;font-size:12px;color:#4b5561;">Current Month</div>
<svg class="b" style="left:360px;top:569px;" width="14" height="14" viewBox="0 0 14 14"><circle cx="7.0" cy="7.0" r="6.4" fill="none" stroke="#3aa0d0" stroke-width="1.1"/><path d="M7.0 3.8 V7.9" stroke="#3aa0d0" stroke-width="1.2"/><circle cx="7.0" cy="9.7" r="0.75" fill="#3aa0d0"/></svg>
<div class="t " style="left:386.0px;top:570.04px;font-size:12px;color:#8a949e;letter-spacing:0.07px;">Adjust the filters to view forecast data.</div>
<div class="t " style="left:1015.6px;top:257.66px;font-size:16px;color:#36414c;">Monthly Cost</div>
<svg class="b" style="left:1781.6px;top:257.7px;" width="14" height="14" viewBox="0 0 14 14"><g fill="none" stroke="#56616c" stroke-width="1.1"><circle cx="5.6" cy="5.6" r="4.7"/><path d="M9 9 L12.6 12.6" stroke-width="1.3"/></g><path d="M3.6 7.6 V6.6 M5.6 7.6 V3.8 M7.6 7.6 V5.3" stroke="#56616c" stroke-width="1"/></svg>
<svg class="b" style="left:1812.2px;top:258.4px;" width="13" height="13" viewBox="0 0 13 13"><g fill="none" stroke="#56616c" stroke-width="1.1"><rect x="0.6" y="0.6" width="5" height="5.8" rx="1.2"/><rect x="6.9" y="0.6" width="4.6" height="3.6" rx="1.5"/><rect x="0.6" y="8" width="5" height="3.5" rx="1.5"/><rect x="6.9" y="5.8" width="4.6" height="5.7" rx="1.2"/></g></svg>
<div class="t" style="left:1000px;width:77px;text-align:right;top:293.47px;font-size:11.5px;color:#4a5560;letter-spacing:-0.3px">$ 160K</div>
<div class="t" style="left:1000px;width:77px;text-align:right;top:350.57px;font-size:11.5px;color:#4a5560;letter-spacing:-0.3px">$ 120K</div>
<div class="t" style="left:1000px;width:77px;text-align:right;top:407.67px;font-size:11.5px;color:#4a5560;letter-spacing:-0.3px">$ 80K</div>
<div class="t" style="left:1000px;width:77px;text-align:right;top:464.67px;font-size:11.5px;color:#4a5560;letter-spacing:-0.3px">$ 40K</div>
<div class="t" style="left:1000px;width:77px;text-align:right;top:521.87px;font-size:11.5px;color:#4a5560;letter-spacing:-0.3px">$ 0</div>
<div class="b" style="left:1087px;top:356px;width:718px;height:1px;background:#f1f3f6"></div>
<div class="b" style="left:1087px;top:413px;width:718px;height:1px;background:#f1f3f6"></div>
<div class="b" style="left:1087px;top:470px;width:718px;height:1px;background:#f1f3f6"></div>
<svg class="b" style="left:0;top:0" width="1908" height="600"><defs><linearGradient id="bg1" x1="0" y1="0" x2="0" y2="1"><stop offset="0" stop-color="#4fb4fb"/><stop offset="1" stop-color="#4d85f7"/></linearGradient></defs>
<path d="M1131 527.6 V324.46975000000003 Q1131 320.46975000000003 1135 320.46975000000003 H1155 Q1159 320.46975000000003 1159 324.46975000000003 V527.6 Z" fill="url(#bg1)"/>
<path d="M1251 527.6 V337.46000000000004 Q1251 333.46000000000004 1255 333.46000000000004 H1275 Q1279 333.46000000000004 1279 337.46000000000004 V527.6 Z" fill="url(#bg1)"/>
<path d="M1371 527.6 V348.309 Q1371 344.309 1375 344.309 H1395 Q1399 344.309 1399 348.309 V527.6 Z" fill="url(#bg1)"/>
<path d="M1491 527.6 V343.17 Q1491 339.17 1495 339.17 H1515 Q1519 339.17 1519 343.17 V527.6 Z" fill="url(#bg1)"/>
<path d="M1611 527.6 V340.315 Q1611 336.315 1615 336.315 H1635 Q1639 336.315 1639 340.315 V527.6 Z" fill="url(#bg1)"/>
<path d="M1731 527.6 V384.853 Q1731 380.853 1735 380.853 H1755 Q1759 380.853 1759 384.853 V527.6 Z" fill="url(#bg1)"/>
</svg>
<div class="t" style="left:1101.5px;width:80px;text-align:center;top:306.31px;font-size:12px;color:#6b7580;letter-spacing:-0.2px">$ 145.1K</div>
<div class="t" style="left:1115px;width:60px;text-align:center;top:532.00px;font-size:13px;color:#6b7580;letter-spacing:-0.2px">Sep</div>
<div class="t" style="left:1221.5px;width:80px;text-align:center;top:319.30px;font-size:12px;color:#6b7580;letter-spacing:-0.2px">$ 136K</div>
<div class="t" style="left:1235px;width:60px;text-align:center;top:532.00px;font-size:13px;color:#6b7580;letter-spacing:-0.2px">Oct</div>
<div class="t" style="left:1341.5px;width:80px;text-align:center;top:330.15px;font-size:12px;color:#6b7580;letter-spacing:-0.2px">$ 128.4K</div>
<div class="t" style="left:1355px;width:60px;text-align:center;top:532.00px;font-size:13px;color:#6b7580;letter-spacing:-0.2px">Nov</div>
<div class="t" style="left:1461.5px;width:80px;text-align:center;top:325.01px;font-size:12px;color:#6b7580;letter-spacing:-0.2px">$ 132K</div>
<div class="t" style="left:1475px;width:60px;text-align:center;top:532.00px;font-size:13px;color:#6b7580;letter-spacing:-0.2px">Dec</div>
<div class="t" style="left:1581.5px;width:80px;text-align:center;top:322.16px;font-size:12px;color:#6b7580;letter-spacing:-0.2px">$ 134K</div>
<div class="t" style="left:1595px;width:60px;text-align:center;top:532.00px;font-size:13px;color:#6b7580;letter-spacing:-0.2px">Jan</div>
<div class="t" style="left:1701.5px;width:80px;text-align:center;top:366.69px;font-size:12px;color:#6b7580;letter-spacing:-0.2px">$ 102.8K</div>
<div class="t" style="left:1715px;width:60px;text-align:center;top:532.00px;font-size:13px;color:#6b7580;letter-spacing:-0.2px">Feb</div>
<svg class="b" style="left:1045px;top:571px;" width="10" height="10" viewBox="0 0 10 10"><defs><linearGradient id="bg2" x1="0" y1="0" x2="0" y2="1"><stop offset="0" stop-color="#4faaf8"/><stop offset="1" stop-color="#4b86f5"/></linearGradient></defs><rect width="10" height="10" rx="2" fill="url(#bg2)"/></svg>
<div class="t " style="left:1061.4px;top:570.34px;font-size:12px;color:#4b5561;">Monthly Cost</div>
<svg class="b" style="left:1143px;top:569px;" width="14" height="14" viewBox="0 0 14 14"><circle cx="7.0" cy="7.0" r="6.4" fill="none" stroke="#3aa0d0" stroke-width="1.1"/><path d="M7.0 3.8 V7.9" stroke="#3aa0d0" stroke-width="1.2"/><circle cx="7.0" cy="9.7" r="0.75" fill="#3aa0d0"/></svg>
<div class="t " style="left:1169.0px;top:570.04px;font-size:12px;color:#8a949e;">Adjust the filters to view forecast data.</div>
<div class="t " style="left:134.7px;top:648.26px;font-size:16px;color:#36414c;">Top 10</div>
<div class="b" style="left:191px;top:645px;width:168px;height:24px;background:#fff;border:1px solid #dfe3e8;border-radius:4px"></div>
<div class="t " style="left:198.0px;top:650.50px;font-size:13px;color:#2f3a45;-webkit-text-stroke:0.5px #2f3a45;">By</div>
<div class="b" style="left:216px;top:650px;width:1px;height:13px;background:#dde1e6"></div>
<div class="t " style="left:225.0px;top:650.50px;font-size:13px;color:#5d6873;">Service</div>
<svg class="b" style="left:344px;top:656.5px;" width="9" height="6" viewBox="0 0 9 6"><path d="M0 0.5 H8.5 L4.25 5.5 Z" fill="#111"/></svg>
<div class="b" style="left:368px;top:645px;width:133px;height:24px;background:#fff;border:1px solid #dfe3e8;border-radius:4px"></div>
<div class="t " style="left:377.0px;top:650.50px;font-size:13px;color:#5d6873;">% of Change</div>
<svg class="b" style="left:487px;top:656.5px;" width="9" height="6" viewBox="0 0 9 6"><path d="M0 0.5 H8.5 L4.25 5.5 Z" fill="#111"/></svg>
<div class="b" style="left:790px;top:639px;width:109px;height:37px;background:#f0f3f7;border-radius:7px"></div>
<div class="b" style="left:795px;top:644px;width:48px;height:25px;background:#2b6cf4;border-radius:5px"></div>
<div class="t " style="left:804.5px;top:649.15px;font-size:14px;color:#fff;font-weight:700;letter-spacing:-0.5px;">MTD</div>
<div class="t " style="left:857.0px;top:649.15px;font-size:14px;color:#4b5561;font-weight:700;letter-spacing:-0.5px;">Daily</div>
<svg class="b" style="left:908.6px;top:649.7px;" width="14" height="14" viewBox="0 0 14 14"><g fill="none" stroke="#56616c" stroke-width="1.1"><circle cx="5.6" cy="5.6" r="4.7"/><path d="M9 9 L12.6 12.6" stroke-width="1.3"/></g><path d="M3.6 7.6 V6.6 M5.6 7.6 V3.8 M7.6 7.6 V5.3" stroke="#56616c" stroke-width="1"/></svg>
<svg class="b" style="left:931.2px;top:649.4px;" width="13" height="13" viewBox="0 0 13 13"><g fill="none" stroke="#56616c" stroke-width="1.1"><rect x="0.6" y="0.6" width="5" height="5.8" rx="1.2"/><rect x="6.9" y="0.6" width="4.6" height="3.6" rx="1.5"/><rect x="0.6" y="8" width="5" height="3.5" rx="1.5"/><rect x="6.9" y="5.8" width="4.6" height="5.7" rx="1.2"/></g></svg>
<div class="b" style="left:134px;top:680px;width:811px;height:37px;background:#f1f4f8;border-radius:8px 8px 0 0;border-bottom:2px solid #e3e7ed"></div>
<div class="t " style="left:140.7px;top:686.04px;font-size:12px;color:#2a333d;-webkit-text-stroke:0.45px #2a333d;">Service</div>
<div class="t " style="left:425.8px;top:686.24px;font-size:12px;color:#2a333d;-webkit-text-stroke:0.45px #2a333d;">Previous MTD Costs</div>
<div class="t " style="left:425.8px;top:703.83px;font-size:10px;color:#3b4653;letter-spacing:-0.45px;-webkit-text-stroke:0.25px #3b4653;">Feb 1-24, 2026</div>
<div class="t " style="left:620.7px;top:686.24px;font-size:12px;color:#2a333d;-webkit-text-stroke:0.45px #2a333d;">MTD Costs</div>
<div class="t " style="left:620.7px;top:703.83px;font-size:10px;color:#3b4653;letter-spacing:-0.45px;-webkit-text-stroke:0.25px #3b4653;">Mar 1-24, 2026</div>
<div class="t " style="left:814.7px;top:686.24px;font-size:12px;color:#2a333d;letter-spacing:-0.2px;-webkit-text-stroke:0.45px #2a333d;">Change (%)</div>
<svg class="b" style="left:884px;top:686px;" width="12" height="12" viewBox="0 0 12 12"><path d="M6 0.8 V11 M1.5 6.8 L6 11.2 L10.5 6.8" fill="none" stroke="#3f7ae8" stroke-width="1.4"/></svg>
<div class="t " style="left:140.3px;top:734.65px;font-size:14px;color:#2a333d;">Redshift-RI</div>
<div class="t " style="left:425.8px;top:734.65px;font-size:14px;color:#2a333d;">$ 36,804</div>
<div class="t " style="left:620.7px;top:734.65px;font-size:14px;color:#2a333d;">$ 0</div>
<div class="b" style="left:814px;top:731.0px;width:118px;height:22px;background:#e5f5ec;border-radius:11px"></div>
<div class="t " style="left:838.2px;top:736.84px;font-size:12px;color:#2f3a45;letter-spacing:-0.2px;">-100.00%</div>
<svg class="b" style="left:896px;top:737.0px;" width="14" height="9" viewBox="0 0 14 9"><path d="M0.8 1.5 L4.6 5 L7.2 2.6 L12 7.2 M12.6 2.8 V7.8 H7.8" fill="none" stroke="#2e9350" stroke-width="1.4" stroke-linejoin="round"/></svg>
<div class="b" style="left:134px;top:765.0px;width:811px;height:1px;background:#e6e9ee"></div>
<div class="t " style="left:140.3px;top:782.65px;font-size:14px;color:#2a333d;">Savings Plans for AWS Compute usage</div>
<div class="t " style="left:425.8px;top:782.65px;font-size:14px;color:#2a333d;">$ 18,432</div>
<div class="t " style="left:620.7px;top:782.65px;font-size:14px;color:#2a333d;">$ 0</div>
<div class="b" style="left:814px;top:779.0px;width:118px;height:22px;background:#e5f5ec;border-radius:11px"></div>
<div class="t " style="left:838.2px;top:784.84px;font-size:12px;color:#2f3a45;letter-spacing:-0.2px;">-100.00%</div>
<svg class="b" style="left:896px;top:785.0px;" width="14" height="9" viewBox="0 0 14 9"><path d="M0.8 1.5 L4.6 5 L7.2 2.6 L12 7.2 M12.6 2.8 V7.8 H7.8" fill="none" stroke="#2e9350" stroke-width="1.4" stroke-linejoin="round"/></svg>
<div class="b" style="left:134px;top:813.0px;width:811px;height:1px;background:#e6e9ee"></div>
<div class="t " style="left:140.3px;top:830.65px;font-size:14px;color:#2a333d;">Amazon Elastic Compute Cloud</div>
<div class="t " style="left:425.8px;top:830.65px;font-size:14px;color:#2a333d;">$ 12,232</div>
<div class="t " style="left:620.7px;top:830.65px;font-size:14px;color:#2a333d;">$ 0</div>
<div class="b" style="left:814px;top:827.0px;width:118px;height:22px;background:#e5f5ec;border-radius:11px"></div>
<div class="t " style="left:838.2px;top:832.84px;font-size:12px;color:#2f3a45;letter-spacing:-0.2px;">-100.00%</div>
<svg class="b" style="left:896px;top:833.0px;" width="14" height="9" viewBox="0 0 14 9"><path d="M0.8 1.5 L4.6 5 L7.2 2.6 L12 7.2 M12.6 2.8 V7.8 H7.8" fill="none" stroke="#2e9350" stroke-width="1.4" stroke-linejoin="round"/></svg>
<div class="b" style="left:134px;top:861.0px;width:811px;height:1px;background:#e6e9ee"></div>
<div class="t " style="left:140.3px;top:878.65px;font-size:14px;color:#2a333d;">Amazon Simple Storage Service</div>
<div class="t " style="left:425.8px;top:878.65px;font-size:14px;color:#2a333d;">$ 7,774</div>
<div class="t " style="left:620.7px;top:878.65px;font-size:14px;color:#2a333d;">$ 0</div>
<div class="b" style="left:814px;top:875.0px;width:118px;height:22px;background:#e5f5ec;border-radius:11px"></div>
<div class="t " style="left:838.2px;top:880.84px;font-size:12px;color:#2f3a45;letter-spacing:-0.2px;">-100.00%</div>
<svg class="b" style="left:896px;top:881.0px;" width="14" height="9" viewBox="0 0 14 9"><path d="M0.8 1.5 L4.6 5 L7.2 2.6 L12 7.2 M12.6 2.8 V7.8 H7.8" fill="none" stroke="#2e9350" stroke-width="1.4" stroke-linejoin="round"/></svg>
<div class="b" style="left:134px;top:909.0px;width:811px;height:1px;background:#e6e9ee"></div>
<div class="t " style="left:140.3px;top:926.65px;font-size:14px;color:#2a333d;">Amazon Redshift</div>
<div class="t " style="left:425.8px;top:926.65px;font-size:14px;color:#2a333d;">$ 7,365</div>
<div class="t " style="left:620.7px;top:926.65px;font-size:14px;color:#2a333d;">$ 0</div>
<div class="b" style="left:814px;top:923.0px;width:118px;height:22px;background:#e5f5ec;border-radius:11px"></div>
<div class="t " style="left:838.2px;top:928.84px;font-size:12px;color:#2f3a45;letter-spacing:-0.2px;">-100.00%</div>
<svg class="b" style="left:896px;top:929.0px;" width="14" height="9" viewBox="0 0 14 9"><path d="M0.8 1.5 L4.6 5 L7.2 2.6 L12 7.2 M12.6 2.8 V7.8 H7.8" fill="none" stroke="#2e9350" stroke-width="1.4" stroke-linejoin="round"/></svg>
<div class="b" style="left:134px;top:957.0px;width:811px;height:1px;background:#e6e9ee"></div>
<div class="t " style="left:1011.0px;top:644.96px;font-size:16px;color:#36414c;">Anomalies</div>
<svg class="b" style="left:1374.6px;top:645.7px;" width="14" height="14" viewBox="0 0 14 14"><g fill="none" stroke="#56616c" stroke-width="1.1"><circle cx="5.6" cy="5.6" r="4.7"/><path d="M9 9 L12.6 12.6" stroke-width="1.3"/></g><path d="M3.6 7.6 V6.6 M5.6 7.6 V3.8 M7.6 7.6 V5.3" stroke="#56616c" stroke-width="1"/></svg>
<svg class="b" style="left:1399.2px;top:645.4px;" width="13" height="13" viewBox="0 0 13 13"><g fill="none" stroke="#56616c" stroke-width="1.1"><rect x="0.6" y="0.6" width="5" height="5.8" rx="1.2"/><rect x="6.9" y="0.6" width="4.6" height="3.6" rx="1.5"/><rect x="0.6" y="8" width="5" height="3.5" rx="1.5"/><rect x="6.9" y="5.8" width="4.6" height="5.7" rx="1.2"/></g></svg>
<svg class="b" style="left:1172px;top:683px;" width="70" height="76" viewBox="0 0 70 76"><path d="M43 1 C58 1 67.5 18 67.5 37 C67.5 58 50 75 27 75 C11 75 1.5 64 1.5 49 C1.5 27 23 1 43 1 Z" fill="#e8effc"/><rect x="17.5" y="21" width="35" height="40.5" rx="3" fill="#fff" style="filter:drop-shadow(0.6px 0.8px 0.4px #d6e2f7)"/><rect x="24" y="29.5" width="2.2" height="2.2" fill="#eef2f8"/><rect x="38.6" y="27.6" width="2" height="2" fill="#eef2f8"/><rect x="42.3" y="34.5" width="2" height="2" fill="#eef2f8"/><path d="M18.8 51.3 C22 51.3 24 52 27 51.3 C29.5 50.7 31 41 34.5 40.2 C38 41 39.5 50.5 42 51.3 C45 52.2 47 51.3 50.3 51.3" fill="none" stroke="#5bb3e8" stroke-width="1.1"/><path d="M31.3 46 C32.3 42.5 33.3 40.3 34.6 40.2 C35.9 40.3 36.9 42.5 37.9 46" fill="none" stroke="#f0a050" stroke-width="1.1"/><path d="M34.7 29.6 L37.7 32.6 L34.7 35.6 L31.7 32.6 Z" fill="#f0b060"/></svg>
<div class="t " style="left:1131.0px;top:782.00px;font-size:13px;color:#4b5561;">You have no open Anomalies</div>
<div class="t " style="left:1455.4px;top:645.46px;font-size:16px;color:#36414c;">Budgets</div>
<svg class="b" style="left:1786.6px;top:645.7px;" width="14" height="14" viewBox="0 0 14 14"><g fill="none" stroke="#56616c" stroke-width="1.1"><circle cx="5.6" cy="5.6" r="4.7"/><path d="M9 9 L12.6 12.6" stroke-width="1.3"/></g><path d="M3.6 7.6 V6.6 M5.6 7.6 V3.8 M7.6 7.6 V5.3" stroke="#56616c" stroke-width="1"/></svg>
<svg class="b" style="left:1811.2px;top:645.4px;" width="13" height="13" viewBox="0 0 13 13"><g fill="none" stroke="#56616c" stroke-width="1.1"><rect x="0.6" y="0.6" width="5" height="5.8" rx="1.2"/><rect x="6.9" y="0.6" width="4.6" height="3.6" rx="1.5"/><rect x="0.6" y="8" width="5" height="3.5" rx="1.5"/><rect x="6.9" y="5.8" width="4.6" height="5.7" rx="1.2"/></g></svg>
<div class="t " style="left:1455.4px;top:687.12px;font-size:19px;color:#222b35;letter-spacing:0.2px;-webkit-text-stroke:0.5px #222b35;">694</div>
<div class="t " style="left:1499.2px;top:691.00px;font-size:13px;color:#4b5561;">Active Budgets</div>
<div class="b" style="left:1647px;top:671px;width:182px;height:22px;background:#fbeaed;border-radius:11px"></div>
<div class="t " style="left:1657.2px;top:676.27px;font-size:11.5px;color:#2f3a45;-webkit-text-stroke:0.4px #2f3a45;">42</div>
<div class="t " style="left:1676.5px;top:676.69px;font-size:11px;color:#4b5561;letter-spacing:-0.2px;">Over Budget</div>
<svg class="b" style="left:1806px;top:675px;" width="13" height="13" viewBox="0 0 13 13"><circle cx="6.5" cy="6.5" r="5.9" fill="none" stroke="#e05a5a" stroke-width="1"/><path d="M6.5 3.3 V7.4" stroke="#e05a5a" stroke-width="1.2"/><circle cx="6.5" cy="9.2" r="0.75" fill="#e05a5a"/></svg>
<div class="b" style="left:1647px;top:699px;width:182px;height:22px;background:#fbeaed;border-radius:11px"></div>
<div class="t " style="left:1657.2px;top:704.27px;font-size:11.5px;color:#2f3a45;-webkit-text-stroke:0.4px #2f3a45;">667</div>
<div class="t " style="left:1683.0px;top:704.69px;font-size:11px;color:#4b5561;letter-spacing:-0.2px;">Forecasted Over Budget</div>
<svg class="b" style="left:1806px;top:703px;" width="13" height="13" viewBox="0 0 13 13"><circle cx="6.5" cy="6.5" r="5.9" fill="none" stroke="#e05a5a" stroke-width="1"/><path d="M6.5 3.3 V7.4" stroke="#e05a5a" stroke-width="1.2"/><circle cx="6.5" cy="9.2" r="0.75" fill="#e05a5a"/></svg>
<div class="t " style="left:1455.4px;top:763.96px;font-size:16px;color:#36414c;">Commitments Inventory</div>
<svg class="b" style="left:1811.2px;top:764.4px;" width="13" height="13" viewBox="0 0 13 13"><g fill="none" stroke="#56616c" stroke-width="1.1"><rect x="0.6" y="0.6" width="5" height="5.8" rx="1.2"/><rect x="6.9" y="0.6" width="4.6" height="3.6" rx="1.5"/><rect x="0.6" y="8" width="5" height="3.5" rx="1.5"/><rect x="6.9" y="5.8" width="4.6" height="5.7" rx="1.2"/></g></svg>
<div class="t " style="left:1455.4px;top:796.94px;font-size:18.5px;color:#222b35;-webkit-text-stroke:0.5px #222b35;">6</div>
<div class="t " style="left:1476.0px;top:800.00px;font-size:13px;color:#4b5561;letter-spacing:-0.2px;">Saving Plans</div>
<div class="b" style="left:1667px;top:795px;width:162px;height:22px;background:#eceff3;border-radius:11px"></div>
<div class="t " style="left:1678.0px;top:800.77px;font-size:11.5px;color:#2f3a45;-webkit-text-stroke:0.4px #2f3a45;">0</div>
<div class="t " style="left:1689.3px;top:801.19px;font-size:11px;color:#4b5561;">will expire this month</div>
<svg class="b" style="left:1806px;top:799px;" width="13" height="13" viewBox="0 0 13 13"><circle cx="6.5" cy="6.5" r="5.9" fill="none" stroke="#4b5561" stroke-width="1"/><path d="M6.5 3.3 V7.4" stroke="#4b5561" stroke-width="1.2"/><circle cx="6.5" cy="9.2" r="0.75" fill="#4b5561"/></svg>
<div class="t " style="left:1455.4px;top:834.14px;font-size:18.5px;color:#222b35;-webkit-text-stroke:0.5px #222b35;">2</div>
<div class="t " style="left:1476.0px;top:838.00px;font-size:13px;color:#4b5561;">Reservation</div>
<div class="b" style="left:1667px;top:832px;width:162px;height:22px;background:#fbeaed;border-radius:11px"></div>
<div class="t " style="left:1678.0px;top:837.77px;font-size:11.5px;color:#2f3a45;-webkit-text-stroke:0.4px #2f3a45;">1</div>
<div class="t " style="left:1689.3px;top:838.19px;font-size:11px;color:#4b5561;">will expire this month</div>
<svg class="b" style="left:1806px;top:836px;" width="13" height="13" viewBox="0 0 13 13"><circle cx="6.5" cy="6.5" r="5.9" fill="none" stroke="#e05a5a" stroke-width="1"/><path d="M6.5 3.3 V7.4" stroke="#e05a5a" stroke-width="1.2"/><circle cx="6.5" cy="9.2" r="0.75" fill="#e05a5a"/></svg>
<div class="t " style="left:1011.0px;top:908.66px;font-size:16px;color:#36414c;letter-spacing:-0.4px;">YTD Savings</div>
<svg class="b" style="left:1811.2px;top:909.4px;" width="13" height="13" viewBox="0 0 13 13"><g fill="none" stroke="#56616c" stroke-width="1.1"><rect x="0.6" y="0.6" width="5" height="5.8" rx="1.2"/><rect x="6.9" y="0.6" width="4.6" height="3.6" rx="1.5"/><rect x="0.6" y="8" width="5" height="3.5" rx="1.5"/><rect x="6.9" y="5.8" width="4.6" height="5.7" rx="1.2"/></g></svg>
<div class="b" style="left:1151px;top:938px;width:1px;height:10px;background:#dde1e6"></div>
<svg class="b" style="left:1190px;top:939px;" width="48" height="5" viewBox="0 0 48 5"><circle cx="24" cy="23" r="22.5" fill="#e8a1ab"/></svg>
<svg class="b" style="left:1462px;top:17px;" width="20" height="22" viewBox="0 0 20 22"><path d="M8.3 2 C9.3 2 10 2.7 10 3.7 V8.2 C10.4 7.7 11 7.5 11.6 7.6 C12.4 7.7 12.9 8.3 13 9 C13.4 8.6 14 8.4 14.6 8.6 C15.3 8.8 15.8 9.4 15.8 10.1 C16.2 9.8 16.8 9.7 17.3 10 C17.9 10.3 18.1 10.9 18.1 11.5 V15.2 C18.1 18.4 15.8 20.7 12.7 20.7 H12 C10 20.7 8.6 19.9 7.5 18.5 L3.9 13.7 C3.3 13 3.4 12 4.1 11.5 C4.8 11 5.7 11.2 6.2 11.8 L6.6 12.4 V3.7 C6.6 2.7 7.3 2 8.3 2 Z" fill="#fff" stroke="#111" stroke-width="1.15" stroke-linejoin="round"/><path d="M10.2 8.4 V11 M12.9 9.2 V11.2 M15.6 10.3 V11.6" stroke="#555" stroke-width="0.8"/></svg>
</body></html>
